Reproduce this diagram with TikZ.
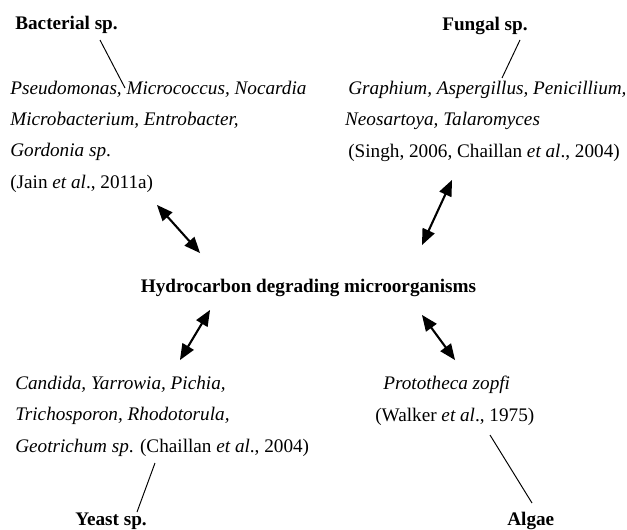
\documentclass[12pt,tikz,border=0pt]{standalone}
\usepackage{fontspec}
\setmainfont{Liberation Serif}
\usetikzlibrary{arrows}

\begin{document}
\begin{tikzpicture}[x=0.625pt,y=-0.625pt,>=triangle 45,
  group/.style={font=\bfseries,inner sep=0pt,anchor=base west},
  block/.style={align=left,inner sep=0pt,anchor=base west,font=\fontsize{12}{19.4}\selectfont},
  link/.style={line width=0.6pt},
  twoway/.style={<->,line width=1.3pt}]
\useasboundingbox (0,0) rectangle (627,529);

% centre
\node[font=\bfseries,inner sep=0pt,anchor=base] (hdm) at (308.5,292) {Hydrocarbon degrading microorganisms};

% groups
\node[group] (bact) at (15,29)  {Bacterial sp.};
\node[group] (fung) at (442,30) {Fungal sp.};
\node[group] (yeast) at (75,525) {Yeast sp.};
\node[group] (alg) at (507,525) {Algae};

% examples (placed by the baseline of the last line)
\node[block] (bacttxt) at (10,188) {\textit{Pseudomonas, Micrococcus, Nocardia}\\
  \textit{Microbacterium, Entrobacter,}\\
  \textit{Gordonia sp}.\\
  (Jain \textit{et al}., 2011a)};
\node[block] (fungtxt) at (348,157) {\textit{Graphium, Aspergillus, Penicillium,}\\
  \hspace*{-2pt}\textit{Neosartoya, Talaromyces}\\
  (Singh, 2006, Chaillan \textit{et al}., 2004)};
\node[block] (yeasttxt) at (15,452) {\textit{Candida, Yarrowia, Pichia,}\\
  \textit{Trichosporon, Rhodotorula,}\\
  \textit{Geotrichum sp}. (Chaillan \textit{et al}., 2004)};
\node[block] (algtxt) at (375,421) {\hspace*{5pt}\textit{Prototheca zopfi}\\
  (Walker \textit{et al}., 1975)};

% line ends
\coordinate (b1) at (100,40);  \coordinate (b2) at (125,88);
\coordinate (f1) at (520,40);  \coordinate (f2) at (502,78);
\coordinate (y1) at (155,463); \coordinate (y2) at (137,512);
\coordinate (a1) at (490,435); \coordinate (a2) at (532,503);
\draw[link] (b1) -- (b2);
\draw[link] (f1) -- (f2);
\draw[link] (y1) -- (y2);
\draw[link] (a1) -- (a2);

% arrow ends
\coordinate (tl1) at (157,205); \coordinate (tl2) at (200,253);
\coordinate (tr1) at (452,180); \coordinate (tr2) at (422,245);
\coordinate (bl1) at (210,310); \coordinate (bl2) at (180,360);
\coordinate (br1) at (422,315); \coordinate (br2) at (455,360);
\draw[twoway] (tl1) -- (tl2);
\draw[twoway] (tr1) -- (tr2);
\draw[twoway] (bl1) -- (bl2);
\draw[twoway] (br1) -- (br2);
\end{tikzpicture}
\end{document}
